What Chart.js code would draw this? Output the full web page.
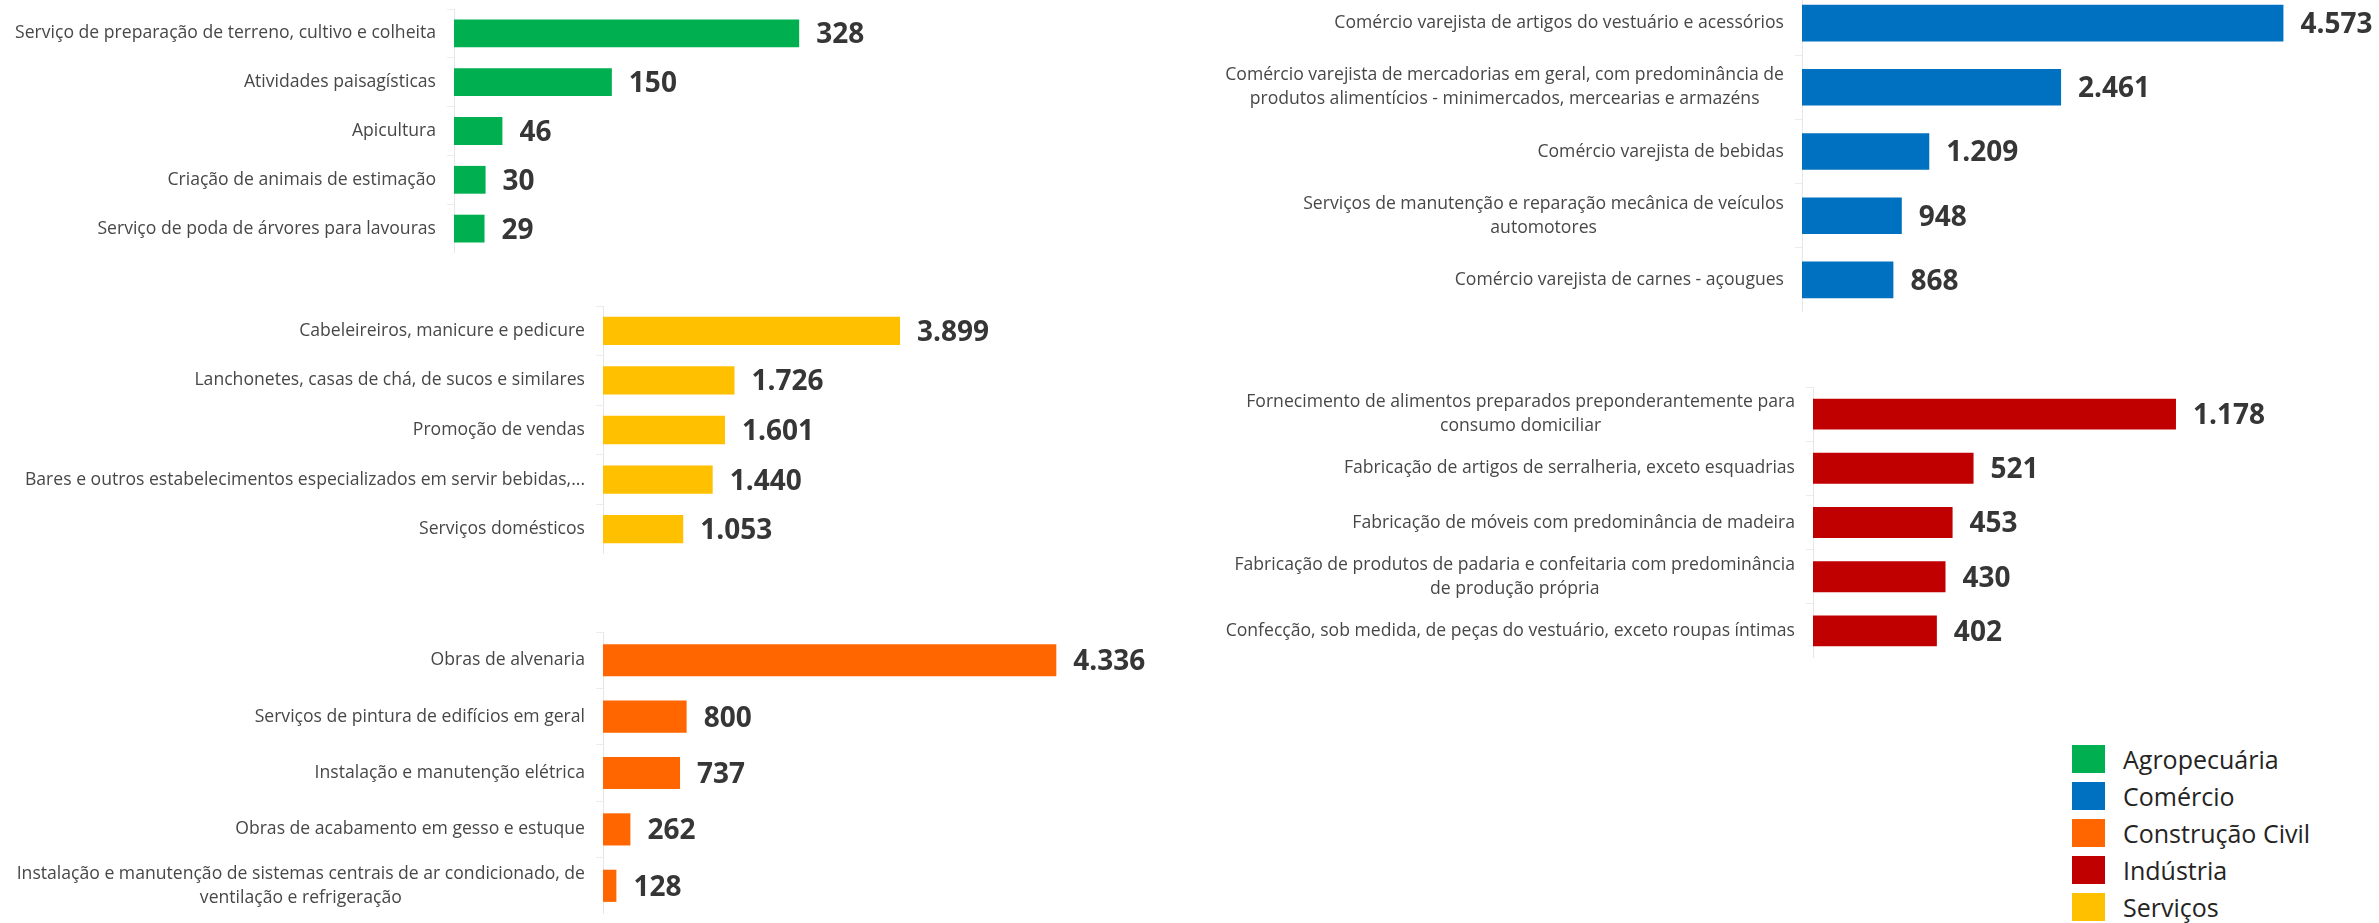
<!DOCTYPE html>
<html>
<head>
<meta charset="utf-8">
<script src="https://cdn.jsdelivr.net/npm/chart.js@4"></script>
<style>
    html, body { margin: 0; padding: 0; background: #fff; overflow: hidden; }
    #wrap { position: relative; width: 2379px; height: 923px; }
    #wrap canvas { position: absolute; }
    .legend { position: absolute; left: 2072px; top: 740px; font-family: "Segoe UI", "Open Sans", sans-serif; font-size: 25px; color: #252423; }
    .legend div { height: 37px; display: flex; align-items: center; }
    .legend span.box { display: inline-block; width: 33px; height: 28px; margin-right: 18px; }
</style>
</head>
<body>
<div id="wrap">
    <canvas id="agro"></canvas>
    <canvas id="servicos"></canvas>
    <canvas id="construcao"></canvas>
    <canvas id="comercio"></canvas>
    <canvas id="industria"></canvas>
    <div class="legend" id="legend"></div>
</div>
<script>
// data
const sectorNames = ['Agropecuária', 'Comércio', 'Construção Civil', 'Indústria', 'Serviços'];
const sectorColors = ['#00B050', '#0070C0', '#FF6600', '#C00000', '#FFC000'];

const agroLabels = [
    'Serviço de preparação de terreno, cultivo e colheita',
    'Atividades paisagísticas',
    'Apicultura',
    'Criação de animais de estimação',
    'Serviço de poda de árvores para lavouras'
];
const agroValues = [328, 150, 46, 30, 29];

const comercioLabels = [
    'Comércio varejista de artigos do vestuário e acessórios',
    ['Comércio varejista de mercadorias em geral, com predominância de', 'produtos alimentícios - minimercados, mercearias e armazéns'],
    'Comércio varejista de bebidas',
    ['Serviços de manutenção e reparação mecânica de veículos', 'automotores'],
    'Comércio varejista de carnes - açougues'
];
const comercioValues = [4573, 2461, 1209, 948, 868];

const construcaoLabels = [
    'Obras de alvenaria',
    'Serviços de pintura de edifícios em geral',
    'Instalação e manutenção elétrica',
    'Obras de acabamento em gesso e estuque',
    ['Instalação e manutenção de sistemas centrais de ar condicionado, de', 'ventilação e refrigeração']
];
const construcaoValues = [4336, 800, 737, 262, 128];

const industriaLabels = [
    ['Fornecimento de alimentos preparados preponderantemente para', 'consumo domiciliar'],
    'Fabricação de artigos de serralheria, exceto esquadrias',
    'Fabricação de móveis com predominância de madeira',
    ['Fabricação de produtos de padaria e confeitaria com predominância', 'de produção própria'],
    'Confecção, sob medida, de peças do vestuário, exceto roupas íntimas'
];
const industriaValues = [1178, 521, 453, 430, 402];

const servicosLabels = [
    'Cabeleireiros, manicure e pedicure',
    'Lanchonetes, casas de chá, de sucos e similares',
    'Promoção de vendas',
    'Bares e outros estabelecimentos especializados em servir bebidas,...',
    'Serviços domésticos'
];
const servicosValues = [3899, 1726, 1601, 1440, 1053];

// axis maximum of each panel
const axisMax = { agro: 420, servicos: 5500, construcao: 5500, comercio: 5500, industria: 1600 };

const FONT = '"Segoe UI", "Open Sans", sans-serif';

const fmt = function (v) {
    return String(v).replace(/\B(?=(\d{3})+(?!\d))/g, '.');
};

// category labels, multi-line ones centred on their widest line
const catLabels = {
    id: 'catLabels',
    afterDraw(chart) {
        const y = chart.scales.y;
        const ctx = chart.ctx;
        ctx.save();
        ctx.font = '17.6px ' + FONT;
        ctx.fillStyle = '#474747';
        ctx.textAlign = 'center';
        ctx.textBaseline = 'middle';
        const right = y.right - 18;
        chart.data.labels.forEach(function (lab, i) {
            const lines = Array.isArray(lab) ? lab : [lab];
            const w = Math.max.apply(null, lines.map(l => ctx.measureText(l).width));
            const cx = right - w / 2;
            const cy = y.getPixelForTick(i);
            lines.forEach(function (l, j) {
                ctx.fillText(l, cx, cy + (j - (lines.length - 1) / 2) * 24);
            });
        });
        ctx.restore();
    }
};

const valueLabels = {
    id: 'valueLabels',
    afterDatasetsDraw(chart) {
        const ctx = chart.ctx;
        const meta = chart.getDatasetMeta(0);
        const values = chart.data.datasets[0].data;
        ctx.save();
        ctx.font = 'bold 28px ' + FONT;
        ctx.fillStyle = '#363636';
        ctx.textAlign = 'left';
        ctx.textBaseline = 'middle';
        meta.data.forEach(function (bar, i) {
            ctx.fillText(fmt(values[i]), bar.x + 17, bar.y + 2);
        });
        ctx.restore();
    }
};

const makeChart = function (id, labels, values, color, box) {
    const canvas = document.getElementById(id);
    canvas.width = box.width;
    canvas.height = box.height;
    canvas.style.left = box.left + 'px';
    canvas.style.top = box.top + 'px';
    return new Chart(canvas.getContext('2d'), {
        type: 'bar',
        data: {
            labels: labels,
            datasets: [{
                data: values,
                backgroundColor: color,
                categoryPercentage: 1,
                barPercentage: 0.57,
            }]
        },
        options: {
            indexAxis: 'y',
            responsive: false,
            animation: false,
            layout: { padding: 0 },
            plugins: { legend: { display: false }, tooltip: { enabled: false } },
            scales: {
                x: { display: false, min: 0, max: axisMax[id] },
                y: {
                    afterFit: function (scale) { scale.width = box.axis; },
                    ticks: { display: false },
                    grid: { drawOnChartArea: false, drawTicks: true, tickLength: 7, color: '#ececec', offset: true },
                    border: { display: true, color: '#e6e6e6' }
                }
            }
        },
        plugins: [catLabels, valueLabels]
    });
};

makeChart('agro', agroLabels, agroValues, sectorColors[0], { left: 0, top: 9, width: 896, height: 244, axis: 454 });
makeChart('servicos', servicosLabels, servicosValues, sectorColors[4], { left: 0, top: 306, width: 1022, height: 248, axis: 603 });
makeChart('construcao', construcaoLabels, construcaoValues, sectorColors[2], { left: 0, top: 632, width: 1178, height: 282, axis: 603 });
makeChart('comercio', comercioLabels, comercioValues, sectorColors[1], { left: 1150, top: -9, width: 1231, height: 321, axis: 652 });
makeChart('industria', industriaLabels, industriaValues, sectorColors[3], { left: 1150, top: 387, width: 1156, height: 271, axis: 663 });

// legend
const $legend = document.getElementById('legend');
sectorNames.forEach(function (name, i) {
    const row = document.createElement('div');
    const box = document.createElement('span');
    box.className = 'box';
    box.style.background = sectorColors[i];
    row.appendChild(box);
    row.appendChild(document.createTextNode(name));
    $legend.appendChild(row);
});
</script>
</body>
</html>
